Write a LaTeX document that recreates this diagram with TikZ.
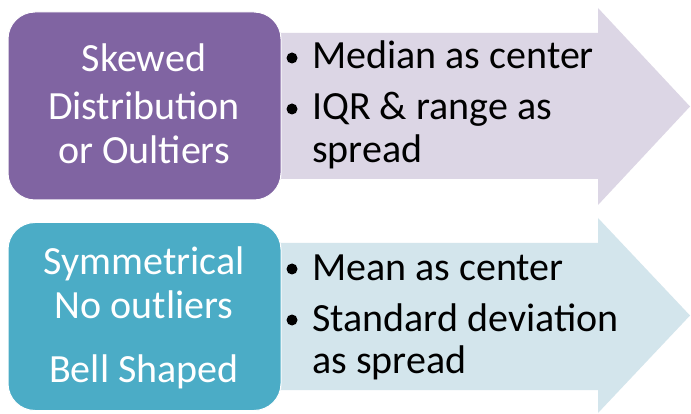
\documentclass[tikz,border=0pt]{standalone}
\usepackage{fontspec}
\setmainfont{Carlito}
\definecolor{purp}{HTML}{8064A2}
\definecolor{lpurp}{HTML}{DCD6E5}
\definecolor{tealbox}{HTML}{4BACC6}
\definecolor{lteal}{HTML}{D3E5EC}
\begin{document}
\begin{tikzpicture}[x=1pt,y=-1pt,
  box/.style={draw=white, line width=1pt, rounded corners=27pt, minimum width=273pt, minimum height=188pt, inner sep=0pt},
  ltxt/.style={font=\fontsize{40}{48}\selectfont, text=white, inner sep=0pt, anchor=base},
  rtxt/.style={font=\fontsize{40}{48}\selectfont, text=black, inner sep=0pt, anchor=base west},
  bul/.style={circle, fill=black, inner sep=0pt, minimum size=11pt}]
\useasboundingbox (0,0) rectangle (691,414);
\fill[white] (0,0) rectangle (691,414);
% arrows
\fill[lpurp] (275,33) -- (598,33) -- (598,8) -- (690,106.5) -- (598,205) -- (598,179) -- (275,179) -- cycle;
\fill[lteal] (275,243) -- (598,243) -- (598,218) -- (690,315.5) -- (598,413) -- (598,390) -- (275,390) -- cycle;
% boxes
\node[box, fill=purp] (skew) at (144.5,106) {};
\node[box, fill=tealbox] (sym) at (144.5,316.5) {};
% left texts
\node[ltxt] (l1) at (144,72) {Skewed};
\node[ltxt] (l2) at (144,120) {Distribution};
\node[ltxt] (l3) at (144,164) {or Oultiers};
\node[ltxt] (l4) at (144,274) {Symmetrical};
\node[ltxt] (l5) at (144,318) {No outliers};
\node[ltxt] (l6) at (144,382) {Bell Shaped};
% right texts
\node[bul] (b1) at (292,58) {};
\node[rtxt] (r1) at (312,69) {Median as center};
\node[bul] (b2) at (292,109) {};
\node[rtxt] (r2) at (312,120) {IQR \& range as};
\node[rtxt] (r3) at (312,163) {spread};
\node[bul] (b3) at (292,269) {};
\node[rtxt] (r4) at (312,280) {Mean as center};
\node[bul] (b4) at (292,320) {};
\node[rtxt] (r5) at (312,331) {Standard deviation};
\node[rtxt] (r6) at (312,373) {as spread};
\end{tikzpicture}
\end{document}
